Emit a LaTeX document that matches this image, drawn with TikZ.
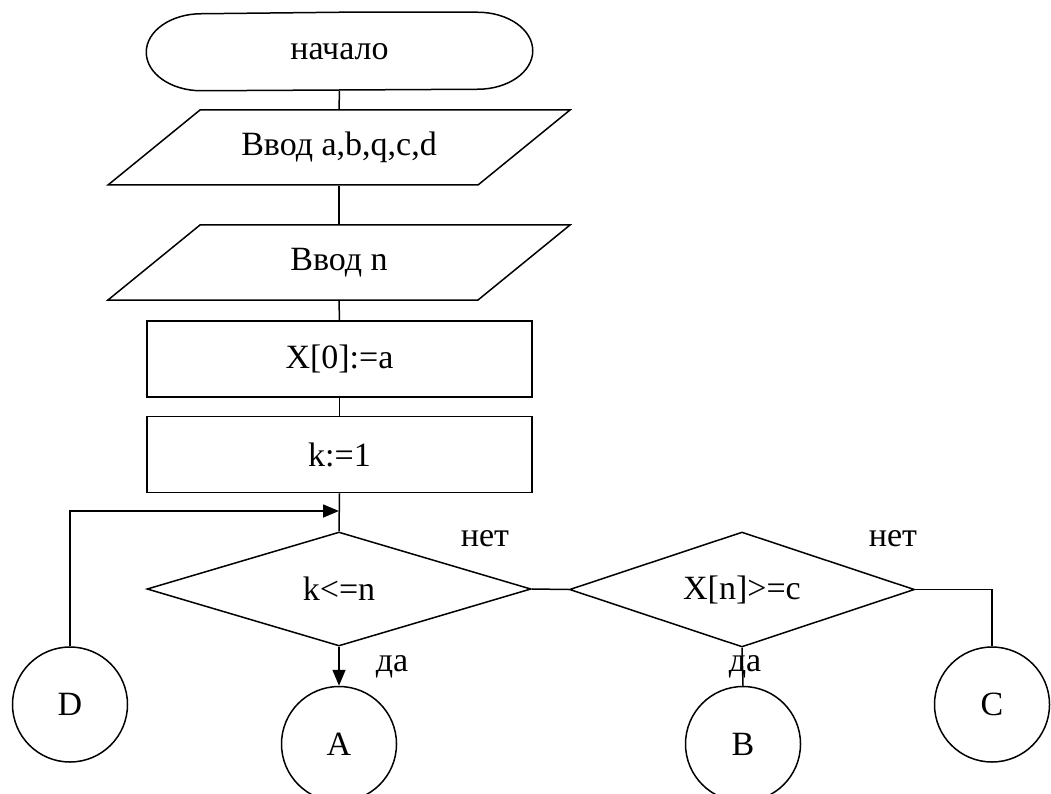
\documentclass[tikz,border=0pt]{standalone}
\usepackage{fontspec}
\setmainfont{Liberation Serif}
\usetikzlibrary{shapes.geometric,arrows.meta}
\begin{document}
\begin{tikzpicture}[x=1pt,y=-1pt,line width=1.5pt,
  font=\fontsize{34}{40}\selectfont,
  every node/.style={inner sep=0pt},
  terminal/.style={minimum width=385pt, minimum height=77pt},
  iobox/.style={minimum width=278pt, minimum height=75pt},
  process/.style={draw, minimum width=385pt, minimum height=76pt},
  decision/.style={draw, diamond, shape aspect=3.3},
  joint/.style={draw, circle, minimum size=115pt},
  arrowflow/.style={-{Triangle[length=16pt,width=13pt]}}
]
\clip (0,0) rectangle (1051,794);
\fill[white] (0,0) rectangle (1051,794);

% blocks of the main column
\node[terminal] (start) at (339.5,51.5) {начало};
\node[iobox] (in1) at (339,147.5) {Ввод a,b,q,c,d};
\node[iobox] (in2) at (339,262.5) {Ввод n};
\node[process] (set1) at (339.5,359) {X[0]:=a};
\node[process] (set2) at (339.5,454.5) {k:=1};

% terminal outline with half-elliptical ends
\draw (start.north) -- ([xshift=-55pt]start.north east)
  arc[start angle=90, end angle=-90, x radius=55pt, y radius=38.5pt]
  -- ([xshift=55pt]start.south west)
  arc[start angle=270, end angle=90, x radius=55pt, y radius=38.5pt] -- cycle;

% input parallelograms around their text nodes
\draw (in1.center) ++(-139,-37.5) -- ++(370,0) -- ++(-92,75) -- ++(-370,0) -- cycle;
\draw (in2.center) ++(-139,-37.5) -- ++(370,0) -- ++(-92,75) -- ++(-370,0) -- cycle;

% decisions
\node[decision, minimum width=384pt, minimum height=114pt] (dec1) at (339,589) {k<=n};
\node[decision, minimum width=345pt, minimum height=115pt] (dec2) at (742,589.5) {X[n]>=c};

% off-page connectors
\node[joint] (D) at (70,704.5) {D};
\node[joint] (A) at (339,744) {A};
\node[joint] (B) at (743,744) {B};
\node[joint] (C) at (992,704.5) {C};

\coordinate (loop) at (339,511);

% flow lines
\draw (start.south) -- (in1.north);
\draw (in1.south) -- (in2.north);
\draw (in2.south) -- (set1.north);
\draw (set1.south) -- (set2.north);
\draw (set2.south) -- (dec1.north);
\draw[arrowflow] (D.north) |- (loop);
\draw[arrowflow] (dec1.south) -- (A.north);
\draw (dec1.east) -- (dec2.west);
\draw (dec2.south) -- (B.north);
\draw (dec2.east) -| (C.north);

% branch labels
\node (no1) at (485,539) {нет};
\node (yes1) at (392,667) {да};
\node (no2) at (893,539) {нет};
\node (yes2) at (745,667) {да};
\end{tikzpicture}
\end{document}
